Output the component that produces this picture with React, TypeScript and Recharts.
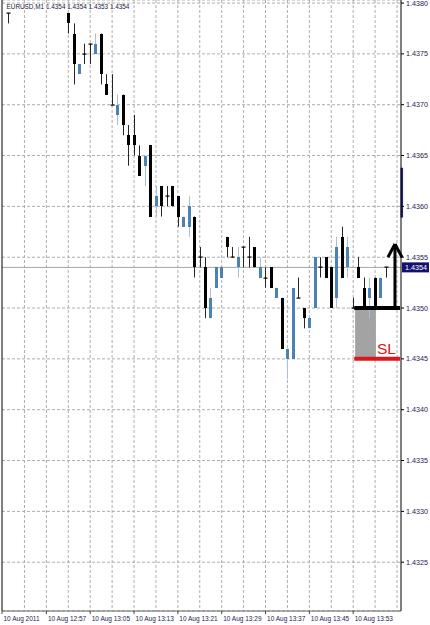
import {
  ComposedChart,
  Bar,
  XAxis,
  YAxis,
  CartesianGrid,
  ReferenceLine,
  ReferenceArea,
} from "recharts";

// EURUSD M1, 10 Aug 2011, one candle per minute from 12:50
const times = [
  "12:50", "12:51", "12:52", "12:53", "12:54", "12:55", "12:56", "12:57", "12:58", "12:59",
  "13:00", "13:01", "13:02", "13:03", "13:04", "13:05", "13:06", "13:07", "13:08", "13:09",
  "13:10", "13:11", "13:12", "13:13", "13:14", "13:15", "13:16", "13:17", "13:18", "13:19",
  "13:20", "13:21", "13:22", "13:23", "13:24", "13:25", "13:26", "13:27", "13:28", "13:29",
  "13:30", "13:31", "13:32", "13:33", "13:34", "13:35", "13:36", "13:37", "13:38", "13:39",
  "13:40", "13:41", "13:42", "13:43", "13:44", "13:45", "13:46", "13:47", "13:48", "13:49",
  "13:50", "13:51", "13:52", "13:53", "13:54", "13:55", "13:56", "13:57", "13:58", "13:59",
];

// 12:51 - 13:00 traded above the visible window, so they are left empty
const opens = [
  1.4379, null, null, null, null, null, null, null, null, null,
  null, 1.4379, 1.4377, 1.4373, 1.4375, 1.4376, 1.4375, 1.4377, 1.4372, 1.437,
  1.4369, 1.4371, 1.4367, 1.4367, 1.4365, 1.4364, 1.4366, 1.436, 1.4362, 1.4361,
  1.4362, 1.4361, 1.4358, 1.4358, 1.4359, 1.4355, 1.4354, 1.4349, 1.4352, 1.4353,
  1.4357, 1.4355, 1.4354, 1.4356, 1.4355, 1.4356, 1.4353, 1.4353, 1.4354, 1.4351,
  1.4351, 1.4345, 1.4345, 1.4351, 1.435, 1.4348, 1.435, 1.4354, 1.4355, 1.4354,
  1.4351, 1.4357, 1.4354, 1.435, 1.4354, 1.4352, 1.4351, 1.4353, 1.4351, 1.4354,
];
const highs = [
  1.4379, null, null, null, null, null, null, null, null, null,
  null, 1.4379, 1.4378, 1.4374, 1.4376, 1.4376, 1.4377, 1.4377, 1.4373, 1.4373,
  1.4371, 1.4371, 1.4368, 1.4369, 1.4366, 1.4365, 1.4366, 1.4362, 1.4362, 1.4362,
  1.4362, 1.4361, 1.4359, 1.4361, 1.4359, 1.4356, 1.4355, 1.4352, 1.4354, 1.4354,
  1.4357, 1.4356, 1.4356, 1.4356, 1.4357, 1.4356, 1.4355, 1.4354, 1.4354, 1.4352,
  1.4351, 1.4346, 1.4352, 1.4353, 1.435, 1.4349, 1.4355, 1.4355, 1.4355, 1.4354,
  1.4357, 1.4358, 1.4357, 1.4351, 1.4355, 1.4353, 1.4353, 1.4353, 1.4353, 1.4354,
];
const lows = [
  1.4378, null, null, null, null, null, null, null, null, null,
  null, 1.4377, 1.4372, 1.4373, 1.4374, 1.4374, 1.4375, 1.4372, 1.4371, 1.437,
  1.4368, 1.4367, 1.4364, 1.4365, 1.4363, 1.4362, 1.4359, 1.4359, 1.4359, 1.436,
  1.436, 1.4358, 1.4358, 1.4357, 1.4353, 1.4354, 1.4349, 1.4349, 1.4352, 1.4353,
  1.4355, 1.4355, 1.4353, 1.4354, 1.4354, 1.4354, 1.4353, 1.4352, 1.4352, 1.4351,
  1.4346, 1.4343, 1.4345, 1.4351, 1.4348, 1.4348, 1.435, 1.4353, 1.4353, 1.435,
  1.435, 1.4353, 1.4353, 1.435, 1.4353, 1.435, 1.4349, 1.435, 1.4351, 1.4353,
];
const closes = [
  1.4379, null, null, null, null, null, null, null, null, null,
  null, 1.4378, 1.4374, 1.4374, 1.4375, 1.4376, 1.4376, 1.4373, 1.4371, 1.437,
  1.437, 1.4368, 1.4366, 1.4366, 1.4363, 1.4365, 1.4359, 1.4361, 1.436, 1.4361,
  1.436, 1.4359, 1.4359, 1.436, 1.4354, 1.4355, 1.435, 1.4351, 1.4354, 1.4354,
  1.4356, 1.4355, 1.4355, 1.4356, 1.4355, 1.4354, 1.4354, 1.4353, 1.4352, 1.4352,
  1.4346, 1.4346, 1.4352, 1.4351, 1.4349, 1.4349, 1.4355, 1.4354, 1.4353, 1.435,
  1.4356, 1.4353, 1.4356, 1.435, 1.4353, 1.435, 1.4352, 1.435, 1.4353, 1.4354,
];

const priceTicks = [
  1.4325, 1.433, 1.4335, 1.434, 1.4345, 1.435, 1.4355, 1.436, 1.4365, 1.437, 1.4375, 1.438,
];
const timeTickBars = [7, 15, 23, 31, 39, 47, 55, 63];
const gridBars = [3, 7, 11, 15, 19, 23, 27, 31, 35, 39, 43, 47, 51, 55, 59, 63, 67, 71];

const lastPrice = 1.4354;
const entryPrice = 1.435;
const stopPrice = 1.4345;
const targetPrice = 1.43563;

const X_MIN = -1.1;
const X_MAX = 71.73;
const Y_MIN = 1.43202;
const Y_MAX = 1.43803;

const FONT = "'Liberation Sans', Arial, sans-serif";
const LABEL_COLOR = "#1c1c50";
const UP_BODY = "#4b82b3";
const UP_WICK = "#a9c0d4";
const GRID = "#adadad";

const rows = times.map((t, i) => ({
  i,
  t,
  o: opens[i],
  h: highs[i],
  l: lows[i],
  c: closes[i],
  range: highs[i] == null ? null : [lows[i], highs[i]],
}));

const tickLabels = new Map<number, string>([[X_MIN, "10 Aug 2011"]]);
timeTickBars.forEach((b) => tickLabels.set(b, "10 Aug " + times[b]));

// vertical grid every 4 bars, placed through the x scale
const verticalGrid = ({ xAxis, offset }: any) =>
  gridBars.map((b) =>
    xAxis && typeof xAxis.scale === "function"
      ? xAxis.scale(b)
      : offset.left + ((b - X_MIN) / (X_MAX - X_MIN)) * offset.width
  );

function Candle(props: any) {
  const { x, y, width, height, payload } = props;
  if (payload == null || payload.h == null) return null;
  const { o, h, l, c } = payload;
  const span = h - l || 1e-9;
  const py = (v: number) => y + ((h - v) / span) * height;
  const cx = Math.round(x + width / 2) + 0.5;
  const up = c > o;
  const top = Math.round(py(Math.max(o, c)));
  const bot = Math.round(py(Math.min(o, c)));
  return (
    <g>
      <line
        x1={cx}
        x2={cx}
        y1={py(h)}
        y2={py(l)}
        stroke={up ? UP_WICK : "#262626"}
        strokeWidth={1}
      />
      {o === c ? (
        <rect x={cx - 2} y={top - 0.5} width={4} height={1.2} fill="#000" />
      ) : (
        <rect
          x={cx - 1.5}
          y={top}
          width={3}
          height={Math.max(1, bot - top)}
          fill={up ? UP_BODY : "#000"}
        />
      )}
    </g>
  );
}

function TimeTick(props: any) {
  const { x, y, payload } = props;
  const label = tickLabels.get(payload.value);
  if (!label) return null;
  return (
    <text x={x + 1.5} y={y + 5} fontSize={6.5} fontFamily={FONT} fill={LABEL_COLOR}>
      {label}
    </text>
  );
}

function LastPriceTag(props: any) {
  const vb = props.viewBox;
  const left = vb.x + vb.width + 1;
  return (
    <g>
      <rect x={left} y={vb.y - 5} width={27} height={10} fill="#12126c" />
      <text
        x={left + 3}
        y={vb.y + 2.6}
        fontSize={7.2}
        fontFamily={FONT}
        fill="#ffffff"
      >
        {lastPrice.toFixed(4)}
      </text>
    </g>
  );
}

function StopTag(props: any) {
  const vb = props.viewBox;
  return (
    <text
      x={vb.x + vb.width - 4}
      y={vb.y - 5}
      textAnchor="end"
      fontSize={15.5}
      fontFamily={FONT}
      fill="#e0141c"
    >
      SL
    </text>
  );
}

export default function App() {
  return (
    <div style={{ position: "relative", width: 430, height: 625, background: "#fff" }}>
      <style>{"body{margin:0;}"}</style>
      <ComposedChart
        width={430}
        height={625}
        data={rows}
        margin={{ top: 0, right: 0, bottom: 0, left: 2 }}
      >
        <CartesianGrid
          stroke={GRID}
          strokeDasharray="3 2"
          verticalCoordinatesGenerator={verticalGrid}
        />
        <XAxis
          type="number"
          dataKey="i"
          domain={[X_MIN, X_MAX]}
          allowDataOverflow
          ticks={[X_MIN, ...timeTickBars]}
          interval={0}
          tick={<TimeTick />}
          tickSize={3}
          tickLine={{ stroke: "#444" }}
          axisLine={{ stroke: "#666" }}
          height={14}
        />
        <YAxis
          orientation="right"
          domain={[Y_MIN, Y_MAX]}
          allowDataOverflow
          ticks={priceTicks}
          interval={0}
          tickFormatter={(v: number) => v.toFixed(4)}
          tick={{ fontSize: 7.2, fill: LABEL_COLOR, fontFamily: FONT }}
          tickSize={3}
          tickLine={{ stroke: "#000" }}
          axisLine={{ stroke: "#000" }}
          width={29}
        />
        <ReferenceLine x={X_MIN} stroke="#000" />
        <ReferenceLine
          y={lastPrice}
          stroke="#a6a6a6"
          zIndex={-50}
          label={<LastPriceTag />}
        />
        <ReferenceArea
          x1={63.35}
          x2={67.15}
          y1={stopPrice}
          y2={entryPrice}
          fill="#a3a3a3"
          fillOpacity={1}
          stroke="none"
          zIndex={-50}
        />
        <Bar
          dataKey="range"
          barSize={3}
          shape={<Candle />}
          isAnimationActive={false}
        />
        <ReferenceLine
          segment={[
            { x: X_MAX + 0.15, y: 1.43638 },
            { x: X_MAX + 0.15, y: 1.43589 },
          ]}
          stroke="#23237a"
          strokeWidth={2.5}
          ifOverflow="visible"
        />
        <ReferenceLine
          segment={[
            { x: 63.2, y: stopPrice },
            { x: 71.55, y: stopPrice },
          ]}
          stroke="#e0141c"
          strokeWidth={4}
          label={<StopTag />}
        />
        <ReferenceLine
          segment={[
            { x: 63.2, y: entryPrice },
            { x: 71.55, y: entryPrice },
          ]}
          stroke="#000"
          strokeWidth={4}
        />
        <ReferenceLine
          segment={[
            { x: 70.63, y: entryPrice },
            { x: 70.63, y: targetPrice },
          ]}
          stroke="#000"
          strokeWidth={3}
          ifOverflow="visible"
        />
        <ReferenceLine
          segment={[
            { x: 69.35, y: 1.4355 },
            { x: 70.63, y: targetPrice },
          ]}
          stroke="#000"
          strokeWidth={3}
          ifOverflow="visible"
        />
        <ReferenceLine
          segment={[
            { x: 71.91, y: 1.4355 },
            { x: 70.63, y: targetPrice },
          ]}
          stroke="#000"
          strokeWidth={3}
          ifOverflow="visible"
        />
      </ComposedChart>
      <div
        style={{
          position: "absolute",
          left: 6.5,
          top: 3,
          fontSize: 6.4,
          lineHeight: "7px",
          fontFamily: FONT,
          color: "#202040",
          whiteSpace: "nowrap",
        }}
      >
        EURUSD,M1 1.4354 1.4354 1.4353 1.4354
      </div>
    </div>
  );
}
